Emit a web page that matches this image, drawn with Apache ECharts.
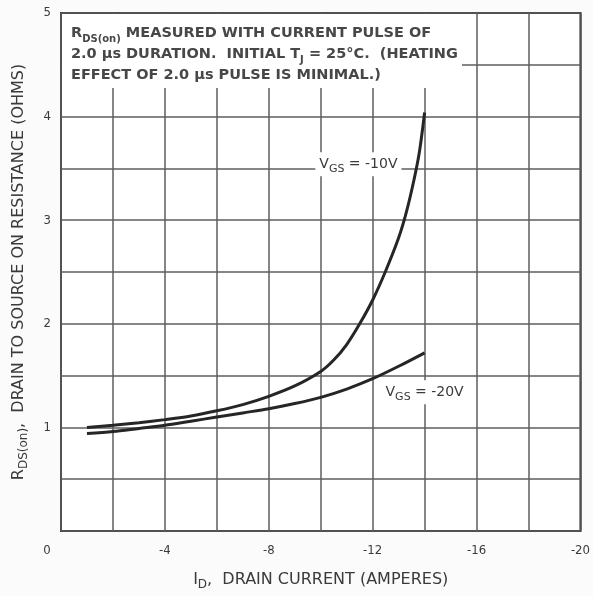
<!DOCTYPE html>
<html lang="en">
<head>
    <meta charset="UTF-8">
    <title>RDS(on) vs ID</title>
    <script src="https://cdn.jsdelivr.net/npm/echarts@6/dist/echarts.min.js"></script>
    <style>
        html, body {margin: 0; padding: 0; background: #fbfbfb;}
        #chart1 {width: 593px; height: 596px;}
    </style>
</head>
<body>
<div id="chart1"></div>
<script>
    // drain current (A) and on-resistance (ohms)
    var id10 = [-1, -2, -3, -4, -5, -6, -7, -8, -9, -10, -10.5, -11, -11.5, -12, -12.5, -13, -13.3, -13.6, -13.8, -14];
    var rds10 = [1.00, 1.02, 1.045, 1.075, 1.11, 1.16, 1.22, 1.30, 1.40, 1.54, 1.65, 1.80, 2.00, 2.23, 2.51, 2.83, 3.08, 3.40, 3.66, 4.04];
    var id20 = [-1, -2, -3, -4, -5, -6, -7, -8, -9, -10, -11, -12, -13, -14];
    var rds20 = [0.94, 0.96, 0.99, 1.02, 1.06, 1.10, 1.14, 1.18, 1.23, 1.29, 1.37, 1.47, 1.59, 1.72];
    var xLabels = [0, -4, -8, -12, -16, -20];
    var yLabels = [1, 2, 3, 4, 5];
    var noteLines = [
        'R{s|DS(on)} MEASURED WITH CURRENT PULSE OF',
        '2.0 \u00b5s DURATION.  INITIAL T{s|J} = 25\u00b0C.  (HEATING',
        'EFFECT OF 2.0 \u00b5s PULSE IS MINIMAL.)'
    ];

    var font = '"DejaVu Sans", sans-serif';
    var narrow = '"DejaVu Sans Condensed", "DejaVu Sans", sans-serif';
    var ink = '#3a3a3a';

    function pairs(xs, ys) {
        var out = [];
        for (var i = 0; i < xs.length; i++) {
            out.push([xs[i], ys[i]]);
        }
        return out;
    }

    var myChart = echarts.init(document.getElementById('chart1'));

    var curveLabel = function (text) {
        return {
            show: true,
            position: 'inside',
            formatter: text,
            color: ink,
            fontFamily: font,
            fontSize: 14,
            backgroundColor: '#fff',
            padding: [2, 4, 2, 4],
            rich: {
                s: {fontSize: 11, fontFamily: font, color: ink, verticalAlign: 'bottom', padding: [9, 0, 0, 0]}
            }
        };
    };

    var titleStyle = {
        color: ink, fontFamily: font, fontSize: 16,
        rich: {s: {fontSize: 12, fontFamily: font, color: ink, verticalAlign: 'bottom', padding: [11, 0, 0, 0]}}
    };

    var option = {
        backgroundColor: '#fbfbfb',
        animation: false,
        grid: {
            left: 61, right: 9, top: 13, bottom: 63,
            show: true,
            borderColor: '#333',
            borderWidth: 2,
            backgroundColor: '#fff'
        },
        xAxis: {
            type: 'value',
            min: -20, max: 0, interval: 2,
            inverse: true,
            axisLine: {show: false},
            axisTick: {show: false},
            splitLine: {lineStyle: {color: '#5e5e5e', width: 1.5}},
            axisLabel: {
                margin: 13,
                color: ink,
                fontFamily: narrow,
                fontSize: 13,
                formatter: function (v) {
                    if (xLabels.indexOf(v) < 0) return '';
                    if (v === 0) return '{z|0}';
                    return String(v);
                },
                rich: {z: {fontFamily: narrow, fontSize: 13, color: ink, padding: [0, 28, 0, 0]}}
            },
            name: 'I{s|D},  DRAIN CURRENT (AMPERES)',
            nameLocation: 'middle',
            nameGap: 37,
            nameTextStyle: titleStyle
        },
        yAxis: {
            type: 'value',
            min: 0, max: 5, interval: 0.5,
            axisLine: {show: false},
            axisTick: {show: false},
            splitLine: {lineStyle: {color: '#5e5e5e', width: 1.5}},
            axisLabel: {
                margin: 10,
                color: ink,
                fontFamily: narrow,
                fontSize: 13,
                formatter: function (v) {
                    return yLabels.indexOf(v) >= 0 ? String(v) : '';
                }
            },
            name: 'R{s|DS(on)},  DRAIN TO SOURCE ON RESISTANCE (OHMS)',
            nameLocation: 'middle',
            nameGap: 31,
            nameTextStyle: titleStyle
        },
        graphic: [{
            type: 'rect',
            z: 1,
            shape: {x: 62, y: 14, width: 400, height: 74},
            style: {fill: '#fff'}
        }, {
            type: 'text',
            z: 2,
            left: 71,
            top: 23,
            style: {
                text: noteLines.join('\n'),
                fill: '#474747',
                font: 'bold 14.5px ' + font,
                lineHeight: 21,
                rich: {
                    s: {fontSize: 10, fontFamily: font, fontWeight: 'bold', fill: '#474747', verticalAlign: 'bottom', padding: [8, 0, 0, 0]}
                }
            }
        }],
        series: [{
            name: 'VGS = -10V',
            type: 'line',
            data: pairs(id10, rds10),
            smooth: 0.3,
            showSymbol: false,
            lineStyle: {color: '#262626', width: 3},
            z: 3,
            markPoint: {
                symbol: 'rect',
                symbolSize: 1,
                itemStyle: {color: 'rgba(0,0,0,0)'},
                data: [{coord: [-11.45, 3.54], label: curveLabel('V{s|GS} = -10V')}]
            }
        }, {
            name: 'VGS = -20V',
            type: 'line',
            data: pairs(id20, rds20),
            smooth: 0.3,
            showSymbol: false,
            lineStyle: {color: '#262626', width: 3},
            z: 3,
            markPoint: {
                symbol: 'rect',
                symbolSize: 1,
                itemStyle: {color: 'rgba(0,0,0,0)'},
                data: [{coord: [-14.0, 1.34], label: curveLabel('V{s|GS} = -20V')}]
            }
        }]
    };

    myChart.setOption(option);
</script>
</body>
</html>
